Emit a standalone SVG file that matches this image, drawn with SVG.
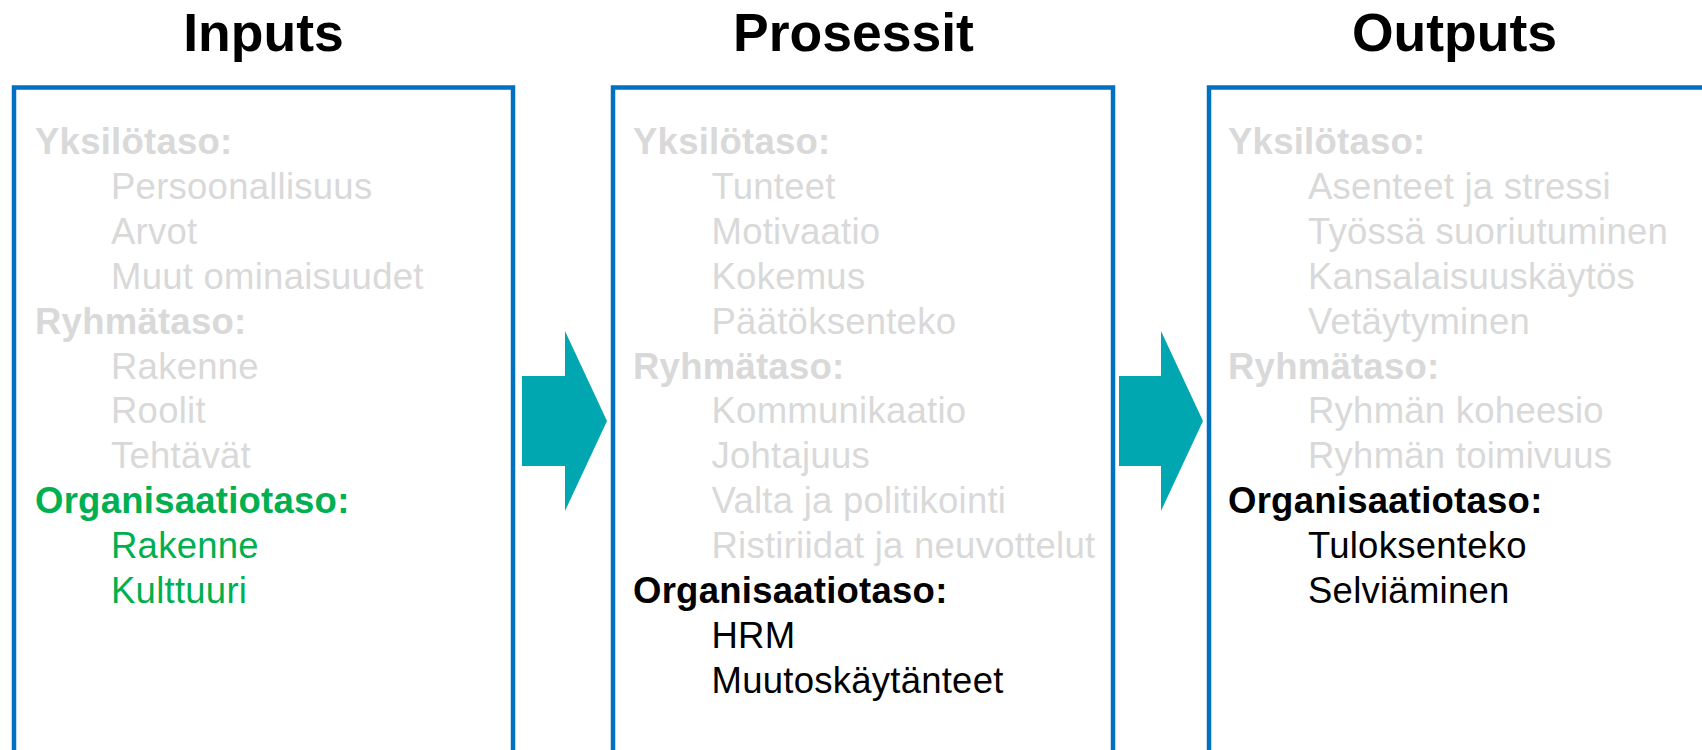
<svg xmlns="http://www.w3.org/2000/svg" width="1702" height="750" viewBox="0 0 1702 750">
<style>
.title{font-family:"Liberation Sans",Arial,sans-serif;font-weight:bold;font-size:53.5px;fill:#000;text-anchor:middle}
.t{font-family:"Liberation Sans",Arial,sans-serif;font-size:36.5px;letter-spacing:0.25px}
.h{font-weight:bold}
.g{fill:#D9D9D9}
.gr{fill:#00B050}
.k{fill:#000}
.box{fill:none;stroke:#0070C0;stroke-width:4.5}
.arrow{fill:#00A7B1}
</style>
<rect width="1702" height="750" fill="#fff"/>
<g id="connectors">
<polygon class="arrow" points="522,376 565,376 565,331 607,421 565,511 565,466 522,466"/>
<polygon class="arrow" points="1119,376 1161,376 1161,331 1203,421 1161,511 1161,466 1119,466"/>
</g>
<g id="inputs">
<text class="title" x="263.5" y="50.5">Inputs</text>
<rect class="box" x="14" y="87.5" width="499" height="700"/>
<text class="t h g" x="35" y="154.3">Yksilötaso:</text>
<text class="t g" x="111" y="199.2">Persoonallisuus</text>
<text class="t g" x="111" y="244">Arvot</text>
<text class="t g" x="111" y="288.9">Muut ominaisuudet</text>
<text class="t h g" x="35" y="333.7">Ryhmätaso:</text>
<text class="t g" x="111" y="378.6">Rakenne</text>
<text class="t g" x="111" y="423.4">Roolit</text>
<text class="t g" x="111" y="468.3">Tehtävät</text>
<text class="t h gr" x="35" y="513.1">Organisaatiotaso:</text>
<text class="t gr" x="111" y="558">Rakenne</text>
<text class="t gr" x="111" y="602.8">Kulttuuri</text>
</g>
<g id="prosessit">
<text class="title" x="853.5" y="50.5">Prosessit</text>
<rect class="box" x="613" y="87.5" width="500" height="700"/>
<text class="t h g" x="633" y="154.3">Yksilötaso:</text>
<text class="t g" x="711.5" y="199.2">Tunteet</text>
<text class="t g" x="711.5" y="244">Motivaatio</text>
<text class="t g" x="711.5" y="288.9">Kokemus</text>
<text class="t g" x="711.5" y="333.7">Päätöksenteko</text>
<text class="t h g" x="633" y="378.6">Ryhmätaso:</text>
<text class="t g" x="711.5" y="423.4">Kommunikaatio</text>
<text class="t g" x="711.5" y="468.3">Johtajuus</text>
<text class="t g" x="711.5" y="513.1">Valta ja politikointi</text>
<text class="t g" x="711.5" y="558">Ristiriidat ja neuvottelut</text>
<text class="t h k" x="633" y="602.8">Organisaatiotaso:</text>
<text class="t k" x="711.5" y="647.7">HRM</text>
<text class="t k" x="711.5" y="692.5">Muutoskäytänteet</text>
</g>
<g id="outputs">
<text class="title" x="1454.5" y="50.5">Outputs</text>
<rect class="box" x="1209" y="87.5" width="600" height="700"/>
<text class="t h g" x="1228" y="154.3">Yksilötaso:</text>
<text class="t g" x="1308" y="199.2">Asenteet ja stressi</text>
<text class="t g" x="1308" y="244">Työssä suoriutuminen</text>
<text class="t g" x="1308" y="288.9">Kansalaisuuskäytös</text>
<text class="t g" x="1308" y="333.7">Vetäytyminen</text>
<text class="t h g" x="1228" y="378.6">Ryhmätaso:</text>
<text class="t g" x="1308" y="423.4">Ryhmän koheesio</text>
<text class="t g" x="1308" y="468.3">Ryhmän toimivuus</text>
<text class="t h k" x="1228" y="513.1">Organisaatiotaso:</text>
<text class="t k" x="1308" y="558">Tuloksenteko</text>
<text class="t k" x="1308" y="602.8">Selviäminen</text>
</g>
</svg>
